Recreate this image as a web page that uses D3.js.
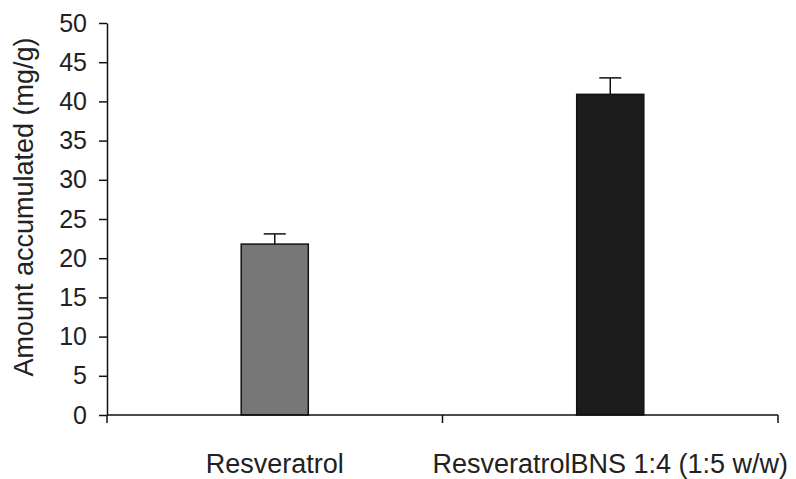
<!DOCTYPE html>
<html><head><meta charset="utf-8">
<script src="https://cdn.jsdelivr.net/npm/d3@7"></script>
<style>body{margin:0;background:#fff}svg{display:block}</style>
</head><body><svg id="c" width="796" height="479"></svg>
<script>
const categories = ["Resveratrol", "ResveratrolBNS 1:4 (1:5 w/w)"];
const values = [21.8, 40.9];
const errors = [1.3, 2.1];
const colors = ["#777777", "#1c1c1c"];
const yTicks = [0,5,10,15,20,25,30,35,40,45,50];

const svg = d3.select("#c");
const m = {l:107, r:18, t:23, b:64};
const W = 796, H = 479;
const x = d3.scaleBand().domain(categories).range([m.l, W-m.r]).paddingInner(0).paddingOuter(0);
const y = d3.scaleLinear().domain([0,50]).range([H-m.b, m.t]);
const font = "'Liberation Sans', Arial, sans-serif";

// y axis
const ya = svg.append("g").attr("transform",`translate(${m.l},0)`)
  .call(d3.axisLeft(y).tickValues(yTicks).tickSize(8).tickPadding(12).tickSizeOuter(0));
ya.select(".domain").attr("stroke","#111").attr("stroke-width",1.5);
ya.selectAll(".tick line").attr("stroke","#111").attr("stroke-width",1.5);
ya.selectAll("text").attr("font-family",font).attr("font-size",25).attr("fill","#222");

// bars
const bw = x.bandwidth()*0.2;
svg.selectAll("rect.bar").data(categories).enter().append("rect")
  .attr("x", d=>x(d)+x.bandwidth()/2-bw/2)
  .attr("y", (d,i)=>y(values[i]))
  .attr("width", bw)
  .attr("height", (d,i)=>y(0)-y(values[i]))
  .attr("fill",(d,i)=>colors[i]).attr("stroke","#111").attr("stroke-width",1.5);

// error bars
const cap = 22;
categories.forEach((d,i)=>{
  const cx = x(d)+x.bandwidth()/2;
  svg.append("line").attr("x1",cx).attr("x2",cx).attr("y1",y(values[i])).attr("y2",y(values[i]+errors[i]))
    .attr("stroke","#111").attr("stroke-width",1.5);
  svg.append("line").attr("x1",cx-cap/2).attr("x2",cx+cap/2).attr("y1",y(values[i]+errors[i])).attr("y2",y(values[i]+errors[i]))
    .attr("stroke","#111").attr("stroke-width",1.5);
});

// x axis
const xa = svg.append("g").attr("transform",`translate(0,${y(0)})`);
xa.append("line").attr("x1",m.l).attr("x2",W-m.r).attr("stroke","#111").attr("stroke-width",1.5);
const bounds = [x(categories[0]), x(categories[1]), x(categories[1])+x.bandwidth()];
xa.selectAll("line.t").data(bounds).enter().append("line")
  .attr("x1",d=>d).attr("x2",d=>d).attr("y1",0).attr("y2",8)
  .attr("stroke","#111").attr("stroke-width",1.5);
xa.selectAll("text").data(categories).enter().append("text")
  .attr("x",d=>x(d)+x.bandwidth()/2).attr("y",58)
  .attr("text-anchor","middle").attr("font-family",font).attr("font-size",27).attr("fill","#222")
  .text(d=>d);

// y label
svg.append("text").attr("transform",`translate(33,207) rotate(-90)`)
  .attr("text-anchor","middle").attr("font-family",font).attr("font-size",27).attr("fill","#222")
  .text("Amount accumulated (mg/g)");
</script></body></html>
